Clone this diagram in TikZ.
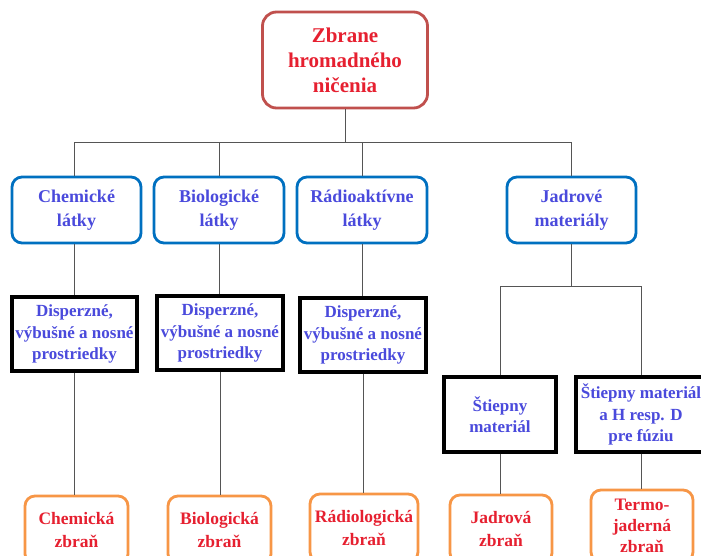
\documentclass[tikz,border=0pt]{standalone}
\usepackage{fontspec}
\setmainfont{Liberation Serif}
\definecolor{topborder}{HTML}{C0504D}
\definecolor{blueborder}{HTML}{0070C0}
\definecolor{orangeborder}{HTML}{F79646}
\definecolor{bluetext}{HTML}{4A4ADC}
\definecolor{redtext}{HTML}{E62030}
\definecolor{conn}{HTML}{555555}
\tikzset{
  base/.style={inner sep=0pt, align=center, fill=white},
  topbox/.style={base, draw=topborder, line width=2.8pt, rounded corners=14pt,
    minimum width=165pt, minimum height=96pt, text=redtext,
    font=\fontsize{21}{25}\selectfont\bfseries},
  catbox/.style={base, draw=blueborder, line width=2.8pt, rounded corners=10pt,
    minimum width=129pt, minimum height=66pt, text=bluetext,
    font=\fontsize{18}{24}\selectfont\bfseries},
  meanbox/.style={base, draw=black, line width=3.2pt,
    minimum width=125pt, minimum height=74pt, text=bluetext,
    font=\fontsize{17}{21.5}\selectfont\bfseries},
  weapbox/.style={base, draw=orangeborder, line width=2.8pt, rounded corners=10pt,
    minimum width=103pt, minimum height=68pt, text=redtext,
    font=\fontsize{17.5}{23}\selectfont\bfseries},
  link/.style={draw=conn, line width=1pt}
}
\begin{document}
\begin{tikzpicture}[x=1pt,y=-1pt]
\useasboundingbox (0,0) rectangle (701,556);
\clip (0,0) rectangle (701,556);
\fill[white] (0,0) rectangle (701,556);
\coordinate (bus) at (0,143);
\coordinate (bus2) at (0,286);
\path (345,60) node[topbox] (top) {Zbrane\\hromadného\\ničenia};
\path (76.5,210) node[catbox] (chem) {Chemické\\látky};
\path (219,210) node[catbox, minimum width=130pt] (bio) {Biologické\\látky};
\path (362,210) node[catbox, minimum width=130pt] (rad) {Rádioaktívne\\látky};
\path (571.5,210) node[catbox] (jad) {Jadrové\\materiály};
\path (74.5,334) node[meanbox] (m1) {Disperzné,\\výbušné a nosné\\prostriedky};
\path (220,333) node[meanbox, minimum width=126pt] (m2) {Disperzné,\\výbušné a nosné\\prostriedky};
\path (363,335) node[meanbox, minimum width=126pt] (m3) {Disperzné,\\výbušné a nosné\\prostriedky};
\path (500,414.5) node[meanbox, minimum width=112pt, minimum height=75pt] (s1) {Štiepny\\materiál};
\path (641,414.5) node[meanbox, minimum width=130pt, minimum height=75pt] (s2) {Štiepny materiál\\a H resp. D\\pre fúziu};
\path (76.5,530) node[weapbox] (w1) {Chemická\\zbraň};
\path (219.5,530) node[weapbox] (w2) {Biologická\\zbraň};
\path (364,528) node[weapbox, minimum width=108pt] (w3) {Rádiologická\\zbraň};
\path (501,529) node[weapbox, minimum width=102pt] (w4) {Jadrová\\zbraň};
\path (642,526) node[weapbox, minimum width=102pt, minimum height=72pt,
  font=\fontsize{17.5}{21}\selectfont\bfseries] (w5) {Termo-\\jaderná\\zbraň};
% connectors
\draw[link] (top.south) -- (top.south |- bus);
\draw[link] (m1.north |- chem.north) -- (m1.north |- bus) -- (jad.north |- bus) -- (jad.north);
\draw[link] (bio.north) -- (bio.north |- bus);
\draw[link] (rad.north) -- (rad.north |- bus);
\draw[link] (m1.north |- chem.south) -- (m1.north);
\draw[link] (bio.south) -- (bio.south |- m2.north);
\draw[link] (rad.south) -- (rad.south |- m3.north);
\draw[link] (m1.south) -- (m1.south |- w1.north);
\draw[link] (m2.south) -- (m2.south |- w2.north);
\draw[link] (m3.south) -- (m3.south |- w3.north);
\draw[link] (jad.south) -- (jad.south |- bus2);
\draw[link] (s1.north) -- (s1.north |- bus2) -- (s2.north |- bus2) -- (s2.north);
\draw[link] (s1.south) -- (s1.south |- w4.north);
\draw[link] (s2.south) -- (s2.south |- w5.north);
\end{tikzpicture}
\end{document}
